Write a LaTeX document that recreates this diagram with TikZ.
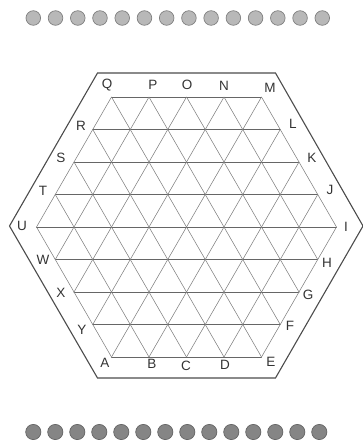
\documentclass[tikz,border=0pt]{standalone}
\usepackage{fontspec}
\setmainfont{Liberation Sans}
\begin{document}
\begin{tikzpicture}[x=1pt, y=-1pt, line cap=round,
    grid/.style={black!50, line width=0.55pt},
    lbl/.style={text=black!80, font=\fontsize{13.5}{15}\selectfont, inner sep=0pt}]
  \definecolor{lgray}{HTML}{B8B8B8}
  \definecolor{dgray}{HTML}{858585}
  \useasboundingbox (0,0) rectangle (363,440);
  % beads top and bottom
  \foreach \i in {0,...,13} \draw[black!50, fill=lgray, line width=0.7pt] (33.3+22.23*\i,18) circle (7.3);
  \foreach \i in {0,...,13} \draw[black!60, fill=dgray, line width=0.7pt] (33.3+22*\i,432) circle (7.6);
  % outer frame
  \draw[black!70, line width=1.1pt] (97.5,73) -- (275.5,73) -- (363,226) -- (275.5,378) -- (97.5,378) -- (9.5,226) -- cycle;
  % board points
  \coordinate (Q) at (111.5,97);   \coordinate (P) at (149,97);     \coordinate (O) at (186.5,97);
  \coordinate (N) at (224,97);     \coordinate (M) at (261.5,97);
  \coordinate (R) at (92.75,129.5); \coordinate (S) at (74,162);    \coordinate (T) at (55.25,194.5);
  \coordinate (U) at (36.5,227);
  \coordinate (W) at (55.25,259.5); \coordinate (X) at (74,292);    \coordinate (Y) at (92.75,324.5);
  \coordinate (A) at (111.5,357);  \coordinate (B) at (149,357);    \coordinate (C) at (186.5,357);
  \coordinate (D) at (224,357);    \coordinate (E) at (261.5,357);
  \coordinate (L) at (280.25,129.5); \coordinate (K) at (299,162);  \coordinate (J) at (317.75,194.5);
  \coordinate (I) at (336.5,227);
  \coordinate (H) at (317.75,259.5); \coordinate (G) at (299,292);  \coordinate (F) at (280.25,324.5);
  % grid lines
  \foreach \a/\b in {Q/M, R/L, S/K, T/J, U/I, W/H, X/G, Y/F, A/E} \draw[grid, black!60] (\a) -- (\b);
  \foreach \a/\b in {M/I, N/H, O/G, P/F, Q/E, R/D, S/C, T/B, U/A} \draw[grid] (\a) -- (\b);
  \foreach \a/\b in {Q/U, P/W, O/X, N/Y, M/A, L/B, K/C, J/D, I/E} \draw[grid] (\a) -- (\b);
  % letters
  \node[lbl] (lQ) at (107,85) {Q};
  \node[lbl] (lP) at (153,85) {P};
  \node[lbl] (lO) at (187,85) {O};
  \node[lbl] (lN) at (224,86) {N};
  \node[lbl] (lM) at (270,88) {M};
  \node[lbl] (lL) at (293,124) {L};
  \node[lbl] (lK) at (312,158) {K};
  \node[lbl] (lJ) at (330,190) {J};
  \node[lbl] (lI) at (346,227) {I};
  \node[lbl] (lH) at (327,263) {H};
  \node[lbl] (lG) at (308,295) {G};
  \node[lbl] (lF) at (290,326) {F};
  \node[lbl] (lE) at (271,362) {E};
  \node[lbl] (lD) at (225,365) {D};
  \node[lbl] (lC) at (186,366) {C};
  \node[lbl] (lB) at (152,364) {B};
  \node[lbl] (lA) at (105,363) {A};
  \node[lbl] (lY) at (82,330) {Y};
  \node[lbl] (lX) at (61,293) {X};
  \node[lbl] (lW) at (43,260) {W};
  \node[lbl] (lU) at (22,226) {U};
  \node[lbl] (lT) at (43,191) {T};
  \node[lbl] (lS) at (61,158) {S};
  \node[lbl] (lR) at (81,126) {R};
\end{tikzpicture}
\end{document}
